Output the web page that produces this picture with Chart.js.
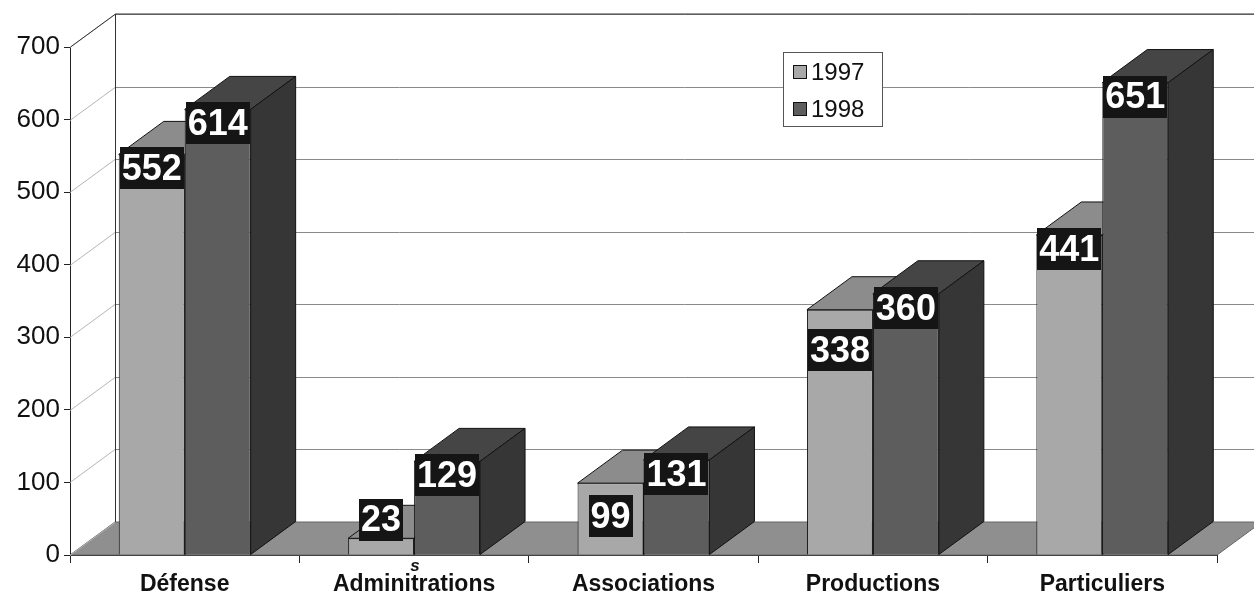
<!DOCTYPE html>
<html>
<head>
<meta charset="utf-8">
<script src="https://cdn.jsdelivr.net/npm/chart.js@4.4.1/dist/chart.umd.min.js"></script>
<style>
  html, body { margin: 0; padding: 0; background: #fff; }
  #wrap { width: 1254px; height: 595px; }
</style>
</head>
<body>
<div id="wrap"><canvas id="chart"></canvas></div>
<script>
// data
const categories = ['Défense', 'Adminitrations', 'Associations', 'Productions', 'Particuliers'];
const seriesLabels = ['1997', '1998'];
const values1997 = [552, 23, 99, 338, 441];
const values1998 = [614, 129, 131, 360, 651];
const yMin = 0;
const yMax = 700;
const yStep = 100;

// 3d look
const DX = 45, DY = -33;
const FONT = "'Liberation Sans', Arial, sans-serif";
const faces = [
  { front: '#a8a8a8', top: '#8c8c8c', side: '#7c7c7c' },
  { front: '#5d5d5d', top: '#454545', side: '#363636' }
];

function poly(ctx, pts, fill, stroke) {
  ctx.beginPath();
  ctx.moveTo(pts[0][0], pts[0][1]);
  for (let i = 1; i < pts.length; i++) ctx.lineTo(pts[i][0], pts[i][1]);
  ctx.closePath();
  if (fill) { ctx.fillStyle = fill; ctx.fill(); }
  if (stroke) { ctx.strokeStyle = stroke; ctx.lineWidth = 1; ctx.stroke(); }
}

const box3d = {
  id: 'box3d',
  beforeDatasetsDraw(chart) {
    const { ctx, chartArea: a, scales: { y } } = chart;
    ctx.save();
    // floor
    poly(ctx, [[a.left, a.bottom], [a.right, a.bottom], [a.right + DX, a.bottom + DY], [a.left + DX, a.bottom + DY]], '#8f8f8f', '#666');
    // gridlines on side wall and back wall
    for (let v = yMin; v <= yMax; v += yStep) {
      const py = Math.round(y.getPixelForValue(v)) + 0.5;
      ctx.strokeStyle = '#b5b5b5';
      ctx.lineWidth = 1;
      ctx.beginPath();
      ctx.moveTo(a.left, py);
      ctx.lineTo(a.left + DX, py + DY);
      ctx.stroke();
      if (v > yMin) {
        ctx.strokeStyle = '#8a8a8a';
        ctx.beginPath();
        ctx.moveTo(a.left + DX, py + DY);
        ctx.lineTo(chart.width, py + DY);
        ctx.stroke();
      }
    }
    // wall outline
    ctx.strokeStyle = '#333';
    ctx.beginPath();
    ctx.moveTo(a.left + 0.5, a.top);
    ctx.lineTo(a.left + DX + 0.5, a.top + DY);
    ctx.lineTo(chart.width, a.top + DY);
    ctx.moveTo(a.left + DX + 0.5, a.top + DY);
    ctx.lineTo(a.left + DX + 0.5, a.bottom + DY);
    ctx.stroke();
    ctx.restore();
  },
  beforeDatasetDraw() {
    return false; // bars are drawn below, category by category
  },
  afterDatasetsDraw(chart) {
    const { ctx } = chart;
    const metas = chart.data.datasets.map((d, i) => chart.getDatasetMeta(i));
    ctx.save();
    for (let i = 0; i < categories.length; i++) {
      metas.forEach((meta, d) => {
        const bar = meta.data[i];
        const L = bar.x - bar.width / 2, R = bar.x + bar.width / 2;
        const T = bar.y, B = bar.base;
        bar.draw(ctx);
        poly(ctx, [[L, T], [R, T], [R + DX, T + DY], [L + DX, T + DY]], faces[d].top, '#111');
        poly(ctx, [[R, T], [R + DX, T + DY], [R + DX, B + DY], [R, B]], faces[d].side, '#111');
      });
    }
    // value labels
    ctx.font = 'bold 36px ' + FONT;
    ctx.textAlign = 'center';
    ctx.textBaseline = 'middle';
    const h = 42;
    for (let i = 0; i < categories.length; i++) {
      const b0 = metas[0].data[i], b1 = metas[1].data[i];
      const y1 = b1.y + 14;
      let y0 = Math.min(b0.y + 14, b0.base - h / 2 - 14);
      if (Math.abs(y0 - y1) < h) y0 = y1 + h;
      [[b0, y0, values1997[i]], [b1, y1, values1998[i]]].forEach(([bar, cy, v]) => {
        const txt = String(v);
        const w = ctx.measureText(txt).width + 4;
        ctx.fillStyle = '#151515';
        ctx.fillRect(Math.round(bar.x - w / 2), Math.round(cy - h / 2), Math.round(w), h);
        ctx.fillStyle = '#fff';
        ctx.fillText(txt, bar.x, cy + 2);
      });
    }
    ctx.restore();
  },
  afterDraw(chart) {
    const { ctx } = chart;
    ctx.save();
    // legend
    const lx = 783, ly = 52, lw = 99, lh = 74;
    ctx.fillStyle = '#fff';
    ctx.fillRect(lx, ly, lw, lh);
    ctx.strokeStyle = '#555';
    ctx.lineWidth = 1;
    ctx.strokeRect(lx + 0.5, ly + 0.5, lw, lh);
    ctx.font = '24px ' + FONT;
    ctx.textBaseline = 'middle';
    ctx.textAlign = 'left';
    seriesLabels.forEach((lab, k) => {
      const cy = ly + 20 + k * 37;
      ctx.fillStyle = faces[k].front;
      ctx.fillRect(lx + 10, cy - 7, 14, 14);
      ctx.strokeStyle = '#111';
      ctx.strokeRect(lx + 10.5, cy - 6.5, 13, 13);
      ctx.fillStyle = '#111';
      ctx.fillText(lab, lx + 28, cy + 1);
    });
    // small handwritten correction over the second label
    ctx.font = 'italic bold 17px ' + FONT;
    ctx.textAlign = 'center';
    ctx.fillText('s', chart.scales.x.getPixelForValue(1) + 1, 566);
    ctx.restore();
  }
};

new Chart(document.getElementById('chart'), {
  type: 'bar',
  data: {
    labels: categories,
    datasets: [
      { label: seriesLabels[0], data: values1997, backgroundColor: faces[0].front, borderColor: '#111', borderWidth: 1 },
      { label: seriesLabels[1], data: values1998, backgroundColor: faces[1].front, borderColor: '#111', borderWidth: 1 }
    ]
  },
  options: {
    responsive: true,
    maintainAspectRatio: false,
    animation: false,
    layout: { padding: { top: 47, right: 37, left: 0, bottom: 0 } },
    datasets: { bar: { categoryPercentage: 0.575, barPercentage: 1.0 } },
    plugins: { legend: { display: false }, tooltip: { enabled: false } },
    scales: {
      x: {
        grid: { display: true, drawOnChartArea: false, offset: true, tickLength: 8, color: '#222' },
        border: { display: true, color: '#222' },
        ticks: { font: { family: FONT, size: 23, weight: 'bold' }, color: '#111', padding: 8, maxRotation: 0 },
        afterFit(s) { s.height = 40; }
      },
      y: {
        min: yMin,
        max: yMax,
        grid: { drawOnChartArea: false, tickLength: 6, color: '#222' },
        border: { display: true, color: '#222' },
        ticks: { stepSize: yStep, font: { family: FONT, size: 26 }, color: '#111', padding: 4 },
        afterFit(s) { s.width = 70; }
      }
    }
  },
  plugins: [box3d]
});
</script>
</body>
</html>
